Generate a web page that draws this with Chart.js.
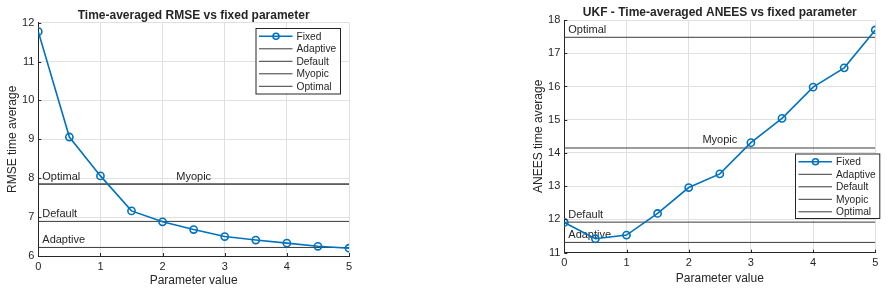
<!DOCTYPE html>
<html>
<head>
<meta charset="utf-8">
<script src="https://cdn.jsdelivr.net/npm/chart.js@4.4.1/dist/chart.umd.min.js"></script>
<style>
  body { margin: 0; background: #fff; width: 887px; height: 292px; position: relative; overflow: hidden; }
  canvas { position: absolute; top: 0; }
  #rmseChart { left: 0; }
  #aneesChart { left: 526px; }
</style>
</head>
<body>
<canvas id="rmseChart" width="370" height="292"></canvas>
<canvas id="aneesChart" width="361" height="292"></canvas>
<script>
// data
const paramValues = [0, 0.5, 1, 1.5, 2, 2.5, 3, 3.5, 4, 4.5, 5];
const rmseFixed = [11.77, 9.06, 8.06, 7.16, 6.88, 6.68, 6.50, 6.41, 6.33, 6.25, 6.20];
const aneesFixed = [11.91, 11.42, 11.53, 12.18, 12.96, 13.37, 14.31, 15.04, 15.98, 16.56, 17.70];
const refNames = ["Adaptive", "Default", "Myopic", "Optimal"];
const rmseRefs = [6.22, 6.89, 7.85, 7.85];
const aneesRefs = [11.31, 11.92, 14.15, 17.48];
const refAlign = ["left", "left", "center", "left"];
const xRange = [0, 5];
const rmseRange = [6, 12];
const aneesRange = [11, 18];

const INK = "#262626";
const BLUE = "#0072BD";
const FONT = "'Liberation Sans', Arial, sans-serif";
Chart.defaults.font.family = FONT;
Chart.defaults.color = INK;

function buildDatasets(fixed, refs) {
  const sets = [{
    label: "Fixed",
    data: paramValues.map((x, i) => ({ x, y: fixed[i] })),
    borderColor: BLUE,
    borderWidth: 1.6,
    pointRadius: 3.6,
    pointBorderWidth: 1.6,
    pointBackgroundColor: "rgba(0,0,0,0)",
    pointBorderColor: BLUE,
    tension: 0
  }];
  refNames.forEach((name, i) => {
    sets.push({
      label: name,
      data: [{ x: xRange[0], y: refs[i] }, { x: xRange[1], y: refs[i] }],
      borderColor: "#3a3a3a",
      borderWidth: 1,
      pointRadius: 0
    });
  });
  return sets;
}

// title, inward ticks, reference labels and a matlab style legend
const decor = {
  id: "decor",
  beforeDatasetsDraw(chart, args, opts) {
    const { ctx, chartArea: ca, scales: { y } } = chart;
    ctx.save();
    ctx.font = "11px " + FONT;
    ctx.fillStyle = INK;
    ctx.textBaseline = "alphabetic";
    refNames.forEach((name, i) => {
      const yy = y.getPixelForValue(opts.refs[i]);
      ctx.textAlign = refAlign[i];
      const xx = refAlign[i] === "center" ? (ca.left + ca.right) / 2 : ca.left + 4;
      ctx.fillText(name, xx, yy - 4.5);
    });
    ctx.restore();
  },
  afterDraw(chart, args, opts) {
    const { ctx, chartArea: ca, scales: { x, y } } = chart;
    ctx.save();

    // ticks pointing inward
    ctx.strokeStyle = INK;
    ctx.lineWidth = 1;
    ctx.beginPath();
    y.ticks.forEach(t => {
      const py = Math.round(y.getPixelForValue(t.value)) + 0.5;
      ctx.moveTo(ca.left, py);
      ctx.lineTo(ca.left + 3, py);
    });
    x.ticks.forEach(t => {
      const px = Math.round(x.getPixelForValue(t.value)) + 0.5;
      ctx.moveTo(px, ca.bottom);
      ctx.lineTo(px, ca.bottom - 3);
    });
    ctx.stroke();

    // title
    ctx.font = "bold 12px " + FONT;
    ctx.fillStyle = INK;
    ctx.textAlign = "center";
    ctx.textBaseline = "alphabetic";
    ctx.fillText(opts.title, (ca.left + ca.right) / 2, ca.top - opts.titleGap);

    // legend
    const lg = opts.legend;
    ctx.fillStyle = "#fff";
    ctx.fillRect(lg.x, lg.y, lg.w, lg.h);
    ctx.strokeStyle = INK;
    ctx.strokeRect(lg.x + 0.5, lg.y + 0.5, lg.w, lg.h);
    ctx.font = "10.2px " + FONT;
    ctx.textAlign = "left";
    ctx.textBaseline = "middle";
    chart.data.datasets.forEach((ds, i) => {
      const ry = lg.y + 8.3 + i * 12.5;
      ctx.strokeStyle = ds.borderColor;
      ctx.lineWidth = ds.borderWidth;
      ctx.beginPath();
      ctx.moveTo(lg.x + 3.5, ry);
      ctx.lineTo(lg.x + 37, ry);
      ctx.stroke();
      if (ds.pointRadius) {
        ctx.beginPath();
        ctx.arc(lg.x + 20.5, ry, 3, 0, Math.PI * 2);
        ctx.stroke();
      }
      ctx.fillStyle = INK;
      ctx.fillText(ds.label, lg.x + 41, ry + 0.5);
    });
    ctx.restore();
  }
};

function makeChart(id, cfg) {
  return new Chart(document.getElementById(id), {
    type: "line",
    data: { datasets: buildDatasets(cfg.fixed, cfg.refs) },
    plugins: [decor],
    options: {
      responsive: false,
      animation: false,
      layout: { padding: cfg.padding },
      plugins: {
        legend: { display: false },
        title: { display: false },
        tooltip: { enabled: false },
        decor: { refs: cfg.refs, title: cfg.title, titleGap: cfg.titleGap, legend: cfg.legend }
      },
      scales: {
        x: {
          type: "linear",
          min: xRange[0],
          max: xRange[1],
          ticks: { stepSize: 1, padding: 4, font: { size: 11 } },
          grid: { color: "#e0e0e0", drawTicks: false },
          border: { color: INK, width: 1 },
          title: { display: true, text: "Parameter value", font: { size: 12 }, padding: { top: 0, bottom: cfg.xTitlePad } },
          afterFit: s => { s.height = cfg.xHeight; }
        },
        y: {
          min: cfg.yRange[0],
          max: cfg.yRange[1],
          ticks: { stepSize: 1, padding: 4, font: { size: 11 } },
          grid: { color: "#e0e0e0", drawTicks: false },
          border: { color: INK, width: 1 },
          title: { display: true, text: cfg.yTitle, font: { size: 12 }, padding: { top: 5, bottom: 0 } },
          afterFit: s => { s.width = 38.3; }
        }
      }
    }
  });
}

makeChart("rmseChart", {
  fixed: rmseFixed,
  refs: rmseRefs,
  yRange: rmseRange,
  yTitle: "RMSE time average",
  title: "Time-averaged RMSE vs fixed parameter",
  titleGap: 4.2,
  padding: { top: 22.7, right: 21, bottom: 0, left: 0 },
  xHeight: 36,
  xTitlePad: 4.1,
  legend: { x: 255.5, y: 28, w: 84.5, h: 65.5 }
});

makeChart("aneesChart", {
  fixed: aneesFixed,
  refs: aneesRefs,
  yRange: aneesRange,
  yTitle: "ANEES time average",
  title: "UKF - Time-averaged ANEES vs fixed parameter",
  titleGap: 4.5,
  padding: { top: 20, right: 11.7, bottom: 0, left: 0 },
  xHeight: 39.3,
  xTitlePad: 6.5,
  legend: { x: 269, y: 153.5, w: 84.3, h: 64.5 }
});
</script>
</body>
</html>
